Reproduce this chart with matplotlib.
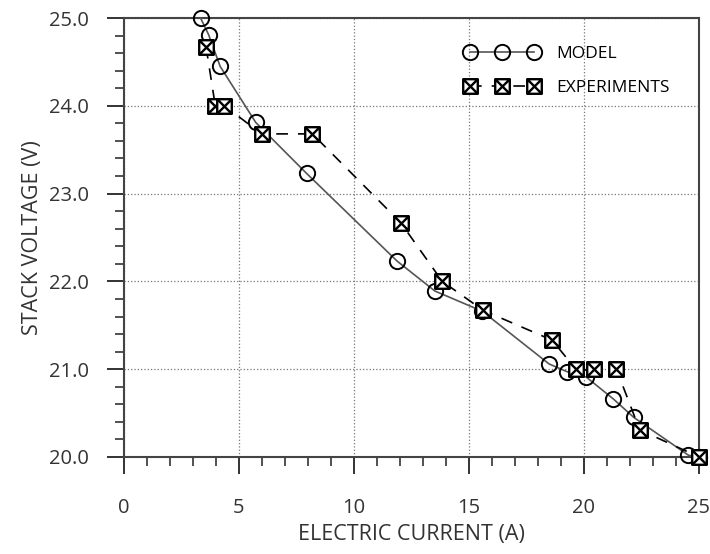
import matplotlib
matplotlib.use("Agg")
import matplotlib.pyplot as plt
from matplotlib.path import Path
from matplotlib.ticker import MultipleLocator, FormatStrFormatter

plt.rcParams['font.family'] = ['Open Sans', 'DejaVu Sans']

# model curve
model_current = [3.33, 3.68, 4.18, 5.73, 7.94, 11.88, 13.52, 15.58, 18.48,
                 19.28, 20.10, 21.28, 22.17, 24.54, 25.0]
model_voltage = [25.0, 24.81, 24.45, 23.81, 23.23, 22.23, 21.89, 21.66, 21.06,
                 20.97, 20.91, 20.66, 20.45, 20.02, 20.0]

# experiments
exp_current = [3.57, 3.97, 4.37, 5.98, 8.19, 12.03, 13.84, 15.62, 18.62,
               19.64, 20.43, 21.41, 22.42, 25.0]
exp_voltage = [24.67, 24.0, 24.0, 23.68, 23.68, 22.67, 22.0, 21.67, 21.33,
               21.0, 21.0, 21.0, 20.31, 20.0]

# square with a cross inside
boxx = Path(
    [(-1, -1), (1, -1), (1, 1), (-1, 1), (-1, -1),
     (-1, -1), (1, 1), (-1, 1), (1, -1)],
    [Path.MOVETO, Path.LINETO, Path.LINETO, Path.LINETO, Path.CLOSEPOLY,
     Path.MOVETO, Path.LINETO, Path.MOVETO, Path.LINETO])

fig = plt.figure(figsize=(7.1, 5.54), dpi=100)
ax = fig.add_axes([0.1746, 0.1751, 0.8099, 0.7924])

ax.plot(model_current, model_voltage, color='#555555', lw=1.2,
        marker='o', ms=11, mfc='none', mec='black', mew=1.4,
        label='MODEL', zorder=3, clip_on=False)
ax.plot(exp_current, exp_voltage, color='black', lw=1.2, ls=(0, (7, 6)),
        marker=boxx, ms=10.5, mfc='white', mec='black', mew=1.7,
        label='EXPERIMENTS', zorder=4, clip_on=False)

ax.set_xlim(0, 25)
ax.set_ylim(20, 25)
ax.xaxis.set_major_locator(MultipleLocator(5))
ax.xaxis.set_minor_locator(MultipleLocator(1))
ax.yaxis.set_major_locator(MultipleLocator(1))
ax.yaxis.set_minor_locator(MultipleLocator(0.2))
ax.yaxis.set_major_formatter(FormatStrFormatter('%.1f'))
ax.tick_params(which='major', direction='out', length=12.5, width=1.4,
               labelsize=14.5, color='#333333', labelcolor='#333333')
ax.tick_params(which='minor', direction='out', length=6.5, width=1.2,
               color='#333333')
ax.tick_params(axis='x', which='major', pad=17)
ax.tick_params(axis='y', which='major', pad=13)
ax.grid(True, which='major', ls=':', color='#777777', lw=0.9)

for s in ax.spines.values():
    s.set_linewidth(1.5)
    s.set_color('#444444')

ax.set_xlabel('ELECTRIC CURRENT (A)', fontsize=15.5, color='#333333', labelpad=4)
ax.set_ylabel('STACK VOLTAGE (V)', fontsize=15.5, color='#333333', labelpad=4)

ax.legend(loc='upper left', bbox_to_anchor=(0.578, 0.957), frameon=False,
          numpoints=3, handlelength=4.3, fontsize=12.5, labelspacing=1.05,
          handletextpad=0.95, borderpad=0)

fig.savefig('out.png', dpi=100)
